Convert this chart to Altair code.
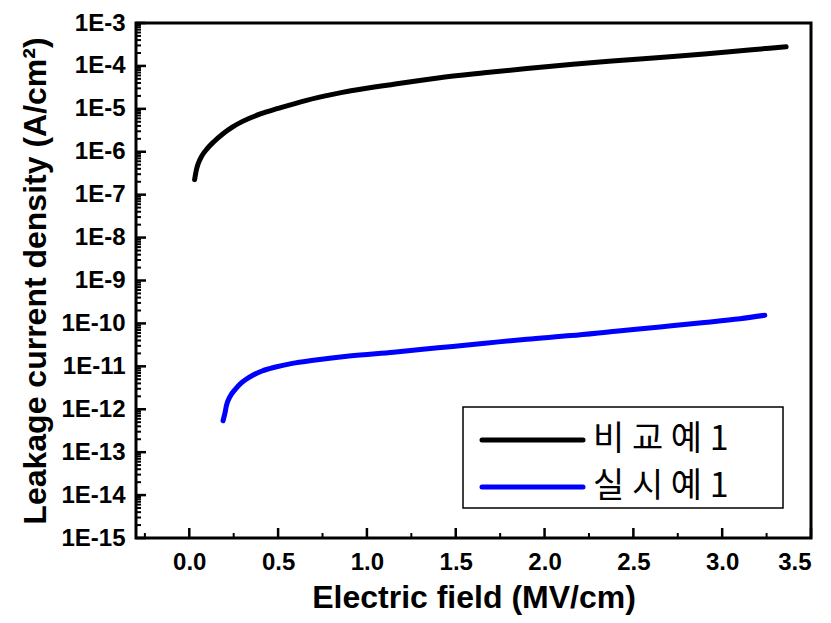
import altair as alt
import pandas as pd

# ---- data ----
series_names = ["비교예 1", "실시예 1"]
legend_labels = ["비 교 예 1", "실 시 예 1"]
series_colors = ["#000000", "#0000ff"]

comp_x = [0.03, 0.04, 0.05, 0.07, 0.10, 0.14, 0.19, 0.24, 0.30, 0.40, 0.50, 0.66,
          0.80, 0.91, 1.16, 1.40, 1.66, 1.90, 2.16, 2.40, 2.65, 2.90, 3.15, 3.36]
comp_y = [2.24e-7, 3.8e-7, 5.25e-7, 7.9e-7, 1.17e-6, 1.74e-6, 2.63e-6, 3.7e-6, 5.1e-6,
          7.6e-6, 1.02e-5, 1.58e-5, 2.14e-5, 2.63e-5, 3.8e-5, 5.25e-5, 6.9e-5, 8.7e-5,
          1.1e-4, 1.32e-4, 1.58e-4, 1.9e-4, 2.35e-4, 2.8e-4]

ex_x = [0.19, 0.20, 0.21, 0.23, 0.26, 0.29, 0.32, 0.36, 0.41, 0.48, 0.58, 0.70,
        0.90, 1.15, 1.40, 1.65, 1.90, 2.15, 2.40, 2.65, 2.90, 3.10, 3.24]
ex_y = [5.4e-13, 7.9e-13, 1.26e-12, 2.0e-12, 2.95e-12, 4.0e-12, 5.0e-12, 6.3e-12,
        7.8e-12, 9.5e-12, 1.17e-11, 1.38e-11, 1.74e-11, 2.14e-11, 2.7e-11, 3.4e-11,
        4.3e-11, 5.2e-11, 6.6e-11, 8.3e-11, 1.05e-10, 1.29e-10, 1.55e-10]

x_major = [0.0, 0.5, 1.0, 1.5, 2.0, 2.5, 3.0, 3.5]
x_minor = [-0.25, 0.25, 0.75, 1.25, 1.75, 2.25, 2.75, 3.25]
y_exponents = list(range(-15, -2))
y_major = [10.0 ** e for e in y_exponents]
y_minor = [m * 10.0 ** e for e in range(-15, -3) for m in range(2, 10)]

W, H = 675, 515

df = pd.DataFrame({
    "x": comp_x + ex_x,
    "y": comp_y + ex_y,
    "series": [series_names[0]] * len(comp_x) + [series_names[1]] * len(ex_x),
})

xs = alt.Scale(domain=[-0.3, 3.5], nice=False, zero=False)
ys = alt.Scale(type="log", domain=[1e-15, 1e-3], nice=False)
color = alt.Color("series:N", scale=alt.Scale(domain=series_names, range=series_colors), legend=None)

x_axis = alt.Axis(values=x_major, format=".1f", title="Electric field (MV/cm)",
                  labelPadding=12, titlePadding=8)
y_axis = alt.Axis(values=y_major, labelExpr="'1E' + round(log(datum.value) / LN10)",
                  title="Leakage current density (A/cm²)", labelPadding=11, titlePadding=8)

lines = alt.Chart(df).mark_line(strokeWidth=5, strokeCap="round", strokeJoin="round",
                                interpolate="monotone").encode(
    x=alt.X("x:Q", scale=xs, axis=x_axis),
    y=alt.Y("y:Q", scale=ys, axis=y_axis),
    color=color,
)

ymaj = alt.Chart(pd.DataFrame({"y": y_major})).mark_rule(color="black", strokeWidth=2.5).encode(
    y=alt.Y("y:Q", scale=ys, axis=y_axis), x=alt.value(0), x2=alt.value(10))
ymin = alt.Chart(pd.DataFrame({"y": y_minor})).mark_rule(color="black", strokeWidth=2).encode(
    y=alt.Y("y:Q", scale=ys, axis=y_axis), x=alt.value(0), x2=alt.value(5))
xmaj = alt.Chart(pd.DataFrame({"x": x_major})).mark_rule(color="black", strokeWidth=2.5).encode(
    x=alt.X("x:Q", scale=xs, axis=x_axis), y=alt.value(H), y2=alt.value(H - 10))
xmin = alt.Chart(pd.DataFrame({"x": x_minor})).mark_rule(color="black", strokeWidth=2).encode(
    x=alt.X("x:Q", scale=xs, axis=x_axis), y=alt.value(H), y2=alt.value(H - 5))

# ---- legend drawn as marks ----
legdf = pd.DataFrame({"series": series_names, "label": legend_labels})
box = alt.Chart(pd.DataFrame({"a": [0]})).mark_rect(fill="white", stroke="black", strokeWidth=1.5).encode(
    x=alt.value(327), x2=alt.value(647), y=alt.value(384), y2=alt.value(485))
leg_layers = []
for i, name in enumerate(series_names):
    row_y = 417 + 47 * i
    sub = alt.Chart(legdf).transform_filter(alt.datum.series == name)
    leg_layers.append(sub.mark_rule(strokeWidth=5, strokeCap="round").encode(
        x=alt.value(346), x2=alt.value(447), y=alt.value(row_y), color=color))
    leg_layers.append(sub.mark_text(align="left", baseline="middle", fontSize=34,
                                    font="Noto Sans CJK KR", color="black").encode(
        x=alt.value(457), y=alt.value(row_y), text="label:N"))

chart = alt.layer(lines, ymaj, ymin, xmaj, xmin, box, *leg_layers).properties(
    width=W, height=H,
    padding={"left": 128, "top": 15, "right": 12, "bottom": 77},
    autosize=alt.AutoSizeParams(type="none"),
).configure_view(stroke="black", strokeWidth=3).configure_axis(
    labelFont="Liberation Sans", labelFontWeight="bold", labelFontSize=24, labelColor="black",
    titleFont="Liberation Sans", titleFontWeight="bold", titleFontSize=32, titleColor="black",
    grid=False, domain=False, ticks=False,
)

chart.save("out.html", embed_options={"renderer": "svg", "actions": False})
